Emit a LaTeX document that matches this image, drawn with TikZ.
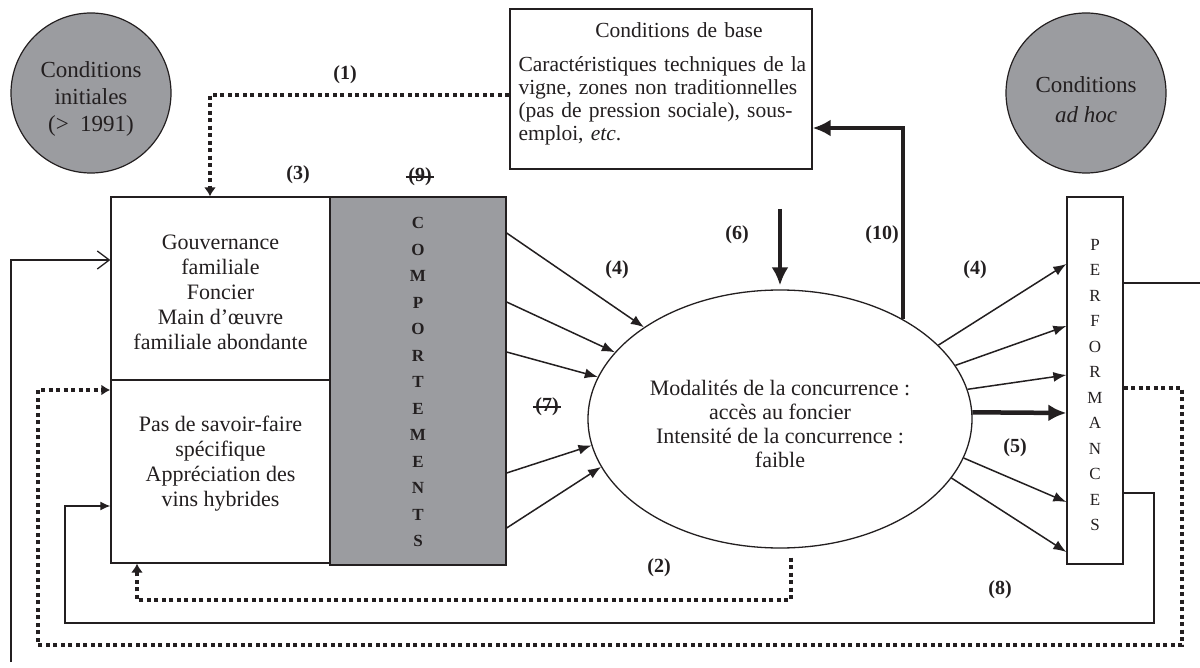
\documentclass[tikz,border=0pt]{standalone}
\usepackage{fontspec}
\setmainfont{Liberation Serif}
\usetikzlibrary{arrows.meta,shapes.geometric}
\definecolor{grayfill}{RGB}{155,156,160}
\definecolor{ink}{RGB}{35,31,32}
\begin{document}
\begin{tikzpicture}[x=1pt,y=-1pt,
  every node/.style={text=ink},
  box/.style={draw=ink, line width=1.3pt, inner sep=0pt},
  circ/.style={draw=ink, circle, fill=grayfill, minimum size=160pt, inner sep=0pt, line width=1.2pt},
  body/.style={align=center, font=\fontsize{22}{25}\selectfont},
  circtxt/.style={align=center, font=\fontsize{23}{27}\selectfont},
  lbl/.style={font=\fontsize{20}{22}\selectfont\bfseries},
  arr/.style={draw=ink, line width=1.5pt, -{Latex[length=13pt,width=10pt]}},
  bigarr/.style={draw=ink, line width=4.5pt, -{Latex[length=18pt,width=17pt]}},
  dotline/.style={draw=ink, line width=4pt, dash pattern=on 4pt off 3.5pt},
  dotarr/.style={dotline, -{Latex[length=9pt,width=12pt]}},
  thinline/.style={draw=ink, line width=1.3pt}
]
\useasboundingbox (0,0) rectangle (1200,668);
\fill[white] (0,0) rectangle (1200,668);

% circles
\node[circ] (ci) at (91,93) {};
\node[circtxt] (cit) at (91,99) {Conditions\\initiales\\(>\enspace1991)};
\node[circ] (ca) at (1086,93) {};
\node[circtxt, font=\fontsize{23}{30}\selectfont] (cat) at (1086,100) {Conditions\\\textit{ad hoc}};

% conditions de base
\node[box, minimum width=302pt, minimum height=160pt] (cb) at (661,89) {};
\node[align=center, text width=285pt, inner sep=0pt, font=\fontsize{21.5}{23}\selectfont] (cbt) at (661,84)
 {\hspace*{36pt}Conditions de base\\[11pt]
  \makebox[285pt][s]{Caractéristiques techniques de la}\\
  \makebox[285pt][s]{vigne, zones non traditionnelles}\\
  \makebox[285pt][s]{(pas de pression sociale), sous-}\\
  \makebox[285pt][l]{emploi, \textit{etc}.}};

% left boxes
\node[box, minimum width=219pt, minimum height=183pt] (gov) at (220.5,288.5) {};
\node[body] (govt) at (220.5,292) {Gouvernance\\familiale\\Foncier\\Main d’œuvre\\familiale abondante};
\node[box, minimum width=219pt, minimum height=183pt] (pas) at (220.5,471.5) {};
\node[body] (past) at (220.5,464) {Pas de savoir-faire\\spécifique\\Appréciation des\\vins hybrides};
\node[box, fill=grayfill, minimum width=176pt, minimum height=368pt] (comp) at (418,381) {};
\node[align=center, font=\fontsize{17}{26.5}\selectfont\bfseries] (compt) at (418,382)
 {C\\O\\M\\P\\O\\R\\T\\E\\M\\E\\N\\T\\S};

% ellipse
\node[draw=ink, ellipse, line width=1.3pt, minimum width=384pt, minimum height=258pt, inner sep=0pt] (ell) at (780,419) {};
\node[align=center, font=\fontsize{22}{24}\selectfont] (ellt) at (780,424)
 {Modalités de la concurrence :\\accès au foncier\\Intensité de la concurrence :\\faible};

% performances
\node[box, minimum width=56pt, minimum height=367pt] (perf) at (1095,380.5) {};
\node[align=center, font=\fontsize{17}{25.5}\selectfont] (perft) at (1095,385)
 {P\\E\\R\\F\\O\\R\\M\\A\\N\\C\\E\\S};

% comportements -> ellipse
\draw[arr] ([yshift=148pt]comp.east) -- (ell.146);
\draw[arr] ([yshift=79pt]comp.east) -- (ell.158);
\draw[arr] ([yshift=29pt]comp.east) -- (ell.167);
\draw[arr] ([yshift=-92pt]comp.east) -- (ell.188);
\draw[arr] ([yshift=-147pt]comp.east) -- (ell.195.7);

% ellipse -> performances
\draw[arr] (ell.25.2) -- ([yshift=116.5pt]perf.west);
\draw[arr] (ell.17.2) -- ([yshift=54.5pt]perf.west);
\draw[arr] (ell.9.2) -- ([yshift=5.5pt]perf.west);
\draw[bigarr] (ell.2) -- ([yshift=-32.5pt]perf.west);
\draw[arr] (ell.-12.8) -- ([yshift=-121.5pt]perf.west);
\draw[arr] (ell.-19.1) -- ([yshift=-171.5pt]perf.west);

% (6) and (10)
\coordinate (c6) at (780,209);
\draw[bigarr] (c6) -- ([yshift=4pt]ell.north);
\draw[bigarr] (ell.39) |- ([yshift=-39pt]cb.east);

% dotted (1)
\draw[dotarr] ([yshift=-6pt]cb.west) -| ([xshift=-10.5pt]gov.north);

% dotted (2)
\coordinate (d3) at (137,600);
\draw[dotarr] ([xshift=11pt,yshift=-9pt]ell.south) |- (d3) -- ([xshift=-83.5pt]pas.south);

% dotted big loop
\coordinate (d1) at (1182,645);
\coordinate (d2) at (38,645);
\draw[dotline, -{Latex[length=9pt,width=11pt]}] ([yshift=-7.5pt]perf.east) -| (d1) -- (d2) |- ([yshift=81.5pt]pas.west);

% solid loop (8)
\coordinate (s1) at (1154,623);
\coordinate (s2) at (65,623);
\draw[thinline, -{Latex[length=10pt,width=9pt]}] ([yshift=-112.5pt]perf.east) -| (s1) -- (s2) |- ([yshift=-34.5pt]pas.west);

% open ends
\coordinate (fb) at (11,662);
\draw[thinline, -{Straight Barb[length=12pt,width=18pt]}] (fb) |- ([yshift=28.5pt]gov.west);
\coordinate (fr) at (1200,283);
\draw[thinline] ([yshift=97.5pt]perf.east) -- (fr);

% labels
\node[lbl] (l1) at (345,75) {(1)};
\node[lbl] (l3) at (298,175) {(3)};
\node[lbl] (l9) at (420,177) {(9)};
\draw[line width=1.2pt, draw=ink] ([xshift=1pt]l9.west) -- ([xshift=-1pt]l9.east);
\node[lbl] (l4a) at (617,270) {(4)};
\node[lbl] (l6) at (737,235) {(6)};
\node[lbl] (l10) at (882,235) {(10)};
\node[lbl] (l4b) at (975,270) {(4)};
\node[lbl] (l7) at (547,407) {(7)};
\draw[line width=1.2pt, draw=ink] ([xshift=1pt]l7.west) -- ([xshift=-1pt]l7.east);
\node[lbl] (l5) at (1015,448) {(5)};
\node[lbl] (l2) at (659,568) {(2)};
\node[lbl] (l8) at (1000,590) {(8)};
\end{tikzpicture}
\end{document}
